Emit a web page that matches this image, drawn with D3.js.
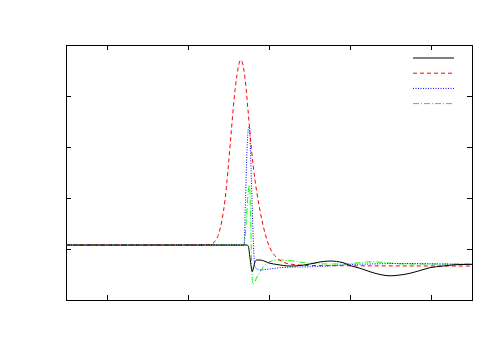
<!DOCTYPE html>
<html>
<head>
<meta charset="utf-8">
<script src="https://cdn.jsdelivr.net/npm/d3@7"></script>
<style>
  html, body { margin: 0; padding: 0; background: #fff; }
  svg { display: block; }
</style>
</head>
<body>
<script>
// ---- data ----
const xTicks = [1, 3, 5, 7, 9];
const yTicks = [0, 0.5, 1, 1.5];

const blackX = [0, 4.458, 4.490, 4.532, 4.589, 4.618, 4.655, 4.697, 4.778, 5.025, 5.197, 5.517, 5.764, 6.010, 6.256, 6.502, 6.823, 6.995, 7.241, 7.488, 7.734, 7.980, 8.227, 8.473, 8.719, 8.966, 9.286, 9.458, 9.704, 10];
const blackY = [0.039, 0.039, 0.029, -0.088, -0.221, -0.186, -0.127, -0.108, -0.108, -0.140, -0.152, -0.167, -0.162, -0.147, -0.127, -0.118, -0.134, -0.162, -0.189, -0.223, -0.250, -0.263, -0.255, -0.238, -0.211, -0.183, -0.167, -0.159, -0.152, -0.150];

const redX = [0, 3.424, 3.571, 3.670, 3.768, 3.842, 3.916, 3.990, 4.064, 4.138, 4.212, 4.273, 4.303, 4.347, 4.409, 4.483, 4.569, 4.655, 4.754, 4.852, 4.951, 5.049, 5.172, 5.320, 5.517, 5.887, 6.749, 10];
const redY = [0.039, 0.039, 0.044, 0.078, 0.157, 0.284, 0.480, 0.775, 1.118, 1.461, 1.706, 1.833, 1.853, 1.824, 1.676, 1.363, 0.971, 0.676, 0.431, 0.235, 0.088, -0.010, -0.078, -0.123, -0.147, -0.160, -0.164, -0.167];

const blueX = [0, 4.384, 4.421, 4.458, 4.495, 4.520, 4.544, 4.581, 4.618, 4.655, 4.778, 5.025, 5.345, 5.764, 6.182, 6.626, 6.995, 7.488, 8.300, 9.212, 10];
const blueY = [0.039, 0.039, 0.480, 0.971, 1.186, 1.196, 0.971, 0.480, 0.039, -0.176, -0.206, -0.196, -0.181, -0.176, -0.172, -0.162, -0.152, -0.147, -0.142, -0.147, -0.152];

const greenX = [0, 4.384, 4.433, 4.483, 4.515, 4.544, 4.569, 4.599, 4.631, 4.704, 4.778, 4.901, 5.025, 5.271, 5.591, 5.936, 6.429, 6.823, 7.241, 7.488, 7.808, 8.300, 8.966, 10];
const greenY = [0.039, 0.039, 0.235, 0.529, 0.627, 0.382, -0.108, -0.343, -0.333, -0.275, -0.225, -0.157, -0.123, -0.108, -0.118, -0.137, -0.147, -0.147, -0.134, -0.125, -0.132, -0.147, -0.147, -0.147];

const seriesNames = ["", "", "", ""];

// ---- layout ----
const W = 500, H = 350;
const L = 66, R = 472, T = 45, B = 300;

const svg = d3.select("body").append("svg").attr("width", W).attr("height", H);

const x = d3.scaleLinear().domain([0, 10]).range([L, R]);
const y = d3.scaleLinear().domain([-0.5, 2.0]).range([B, T]);

const tickLen = 5;

svg.append("g").attr("transform", `translate(0,${B})`)
  .call(d3.axisTop(x).tickValues(xTicks).tickSize(tickLen).tickFormat(""))
  .call(g => g.select(".domain").remove());
svg.append("g").attr("transform", `translate(0,${T})`)
  .call(d3.axisBottom(x).tickValues(xTicks).tickSize(tickLen).tickFormat(""))
  .call(g => g.select(".domain").remove());
svg.append("g").attr("transform", `translate(${L},0)`)
  .call(d3.axisRight(y).tickValues(yTicks).tickSize(tickLen).tickFormat(""))
  .call(g => g.select(".domain").remove());
svg.append("g").attr("transform", `translate(${R},0)`)
  .call(d3.axisLeft(y).tickValues(yTicks).tickSize(tickLen).tickFormat(""))
  .call(g => g.select(".domain").remove());
svg.selectAll(".tick line").attr("stroke", "#000").attr("shape-rendering", "crispEdges");

// frame
svg.append("rect").attr("x", L + 0.5).attr("y", T + 0.5)
  .attr("width", R - L).attr("height", B - T)
  .attr("fill", "none").attr("stroke", "#000").attr("stroke-width", 1);

const series = [
  { xs: blackX, ys: blackY, color: "#000000", dash: null },
  { xs: redX, ys: redY, color: "#ff0000", dash: "4,3" },
  { xs: blueX, ys: blueY, color: "#0000ff", dash: "1,1.5" },
  { xs: greenX, ys: greenY, color: "#00ff00", dash: "6,2,1,2" }
];

const line = d3.line().x(d => x(d[0])).y(d => y(d[1])).curve(d3.curveMonotoneX);

svg.append("clipPath").attr("id", "plotclip").append("rect")
  .attr("x", L).attr("y", T).attr("width", R - L).attr("height", B - T);

// draw in reverse so black is on top
series.slice().reverse().forEach(s => {
  const pts = s.xs.map((v, i) => [v, s.ys[i]]);
  svg.append("path").datum(pts)
    .attr("d", line)
    .attr("fill", "none")
    .attr("stroke", s.color)
    .attr("stroke-width", 1)
    .attr("stroke-dasharray", s.dash)
    .attr("clip-path", "url(#plotclip)");
});

// legend (empty titles)
const legX1 = 413, legX2 = 454, legY0 = 58, legDy = 15.2;
series.forEach((s, i) => {
  const ly = legY0 + i * legDy;
  svg.append("line").attr("x1", legX1).attr("x2", legX2).attr("y1", ly).attr("y2", ly)
    .attr("stroke", s.color).attr("stroke-width", 1).attr("stroke-dasharray", s.dash);
  svg.append("text").attr("x", legX1 - 6).attr("y", ly + 4).attr("text-anchor", "end")
    .attr("font-family", "DejaVu Sans").attr("font-size", 11).text(seriesNames[i]);
});
</script>
</body>
</html>
